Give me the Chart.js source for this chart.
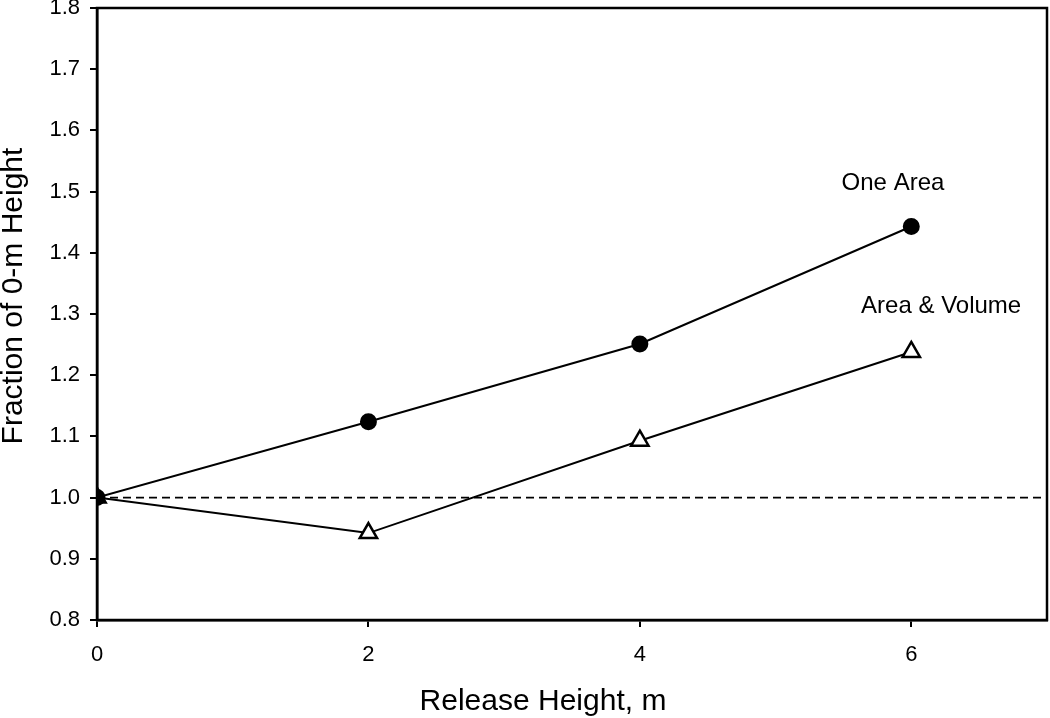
<!DOCTYPE html>
<html>
<head>
<meta charset="utf-8">
<script src="https://cdn.jsdelivr.net/npm/chart.js@4"></script>
<style>
  html, body { margin: 0; padding: 0; background: #fff; }
  #wrap { width: 1050px; height: 718px; }
</style>
</head>
<body>
<div id="wrap"><canvas id="myChart" width="1050" height="718"></canvas></div>
<script>
// data
const releaseHeights = [0, 2, 4, 6];
const oneArea = [1.0, 1.124, 1.251, 1.443];
const areaVolume = [1.0, 0.942, 1.093, 1.238];
const refLineX = [0, 7];
const refLineY = [1.0, 1.0];
const xTicks = [0, 2, 4, 6];
const seriesLabels = [
  { text: 'One Area', x: 5.865, y: 1.514 },
  { text: 'Area & Volume', x: 6.22, y: 1.313 },
];
const xTitle = 'Release Height, m';
const yTitle = 'Fraction of 0-m Height';

const font = 'Liberation Sans, Arial, sans-serif';

// box round the plot, axis titles and the text labels next to the series
const frameAndLabels = {
  id: 'frameAndLabels',
  afterDraw(chart) {
    const { ctx, chartArea: a, scales } = chart;
    ctx.save();
    ctx.strokeStyle = '#000';
    ctx.lineWidth = 2.5;
    ctx.strokeRect(a.left, a.top, a.right - a.left, a.bottom - a.top);
    ctx.fillStyle = '#000';
    ctx.font = '24px ' + font;
    ctx.textAlign = 'center';
    ctx.textBaseline = 'middle';
    seriesLabels.forEach(l => {
      ctx.fillText(l.text, scales.x.getPixelForValue(l.x), scales.y.getPixelForValue(l.y));
    });
    // axis titles
    ctx.font = '30px ' + font;
    ctx.textBaseline = 'alphabetic';
    ctx.fillText(xTitle, 543, 710);
    ctx.translate(21.5, 296);
    ctx.rotate(-Math.PI / 2);
    ctx.fillText(yTitle, 0, 0);
    ctx.restore();
  }
};

const ctx = document.getElementById('myChart').getContext('2d');
new Chart(ctx, {
  type: 'scatter',
  data: {
    datasets: [
      {
        label: 'ref',
        data: refLineX.map((x, i) => ({ x, y: refLineY[i] })),
        showLine: true,
        borderColor: '#000',
        borderWidth: 1.6,
        borderDash: [8, 5],
        pointRadius: 0,
      },
      {
        label: 'One Area',
        data: releaseHeights.map((x, i) => ({ x, y: oneArea[i] })),
        showLine: true,
        borderColor: '#000',
        borderWidth: 2,
        pointStyle: 'circle',
        pointRadius: 7.5,
        pointBackgroundColor: '#000',
        pointBorderColor: '#000',
      },
      {
        label: 'Area & Volume',
        data: releaseHeights.map((x, i) => ({ x, y: areaVolume[i] })),
        showLine: true,
        borderColor: '#000',
        borderWidth: 2,
        pointStyle: 'triangle',
        pointRadius: 10,
        pointBorderWidth: 2.5,
        pointBackgroundColor: '#fff',
        pointBorderColor: '#000',
      },
    ],
  },
  options: {
    responsive: false,
    animation: false,
    layout: { autoPadding: false, padding: { top: 8, right: 3, left: 0, bottom: 0 } },
    plugins: { legend: { display: false }, tooltip: { enabled: false } },
    scales: {
      x: {
        type: 'linear',
        min: 0,
        max: 7,
        afterBuildTicks: axis => { axis.ticks = xTicks.map(v => ({ value: v })); },
        afterFit: axis => { axis.height = 98; axis.paddingLeft = 0; axis.paddingRight = 0; },
        ticks: { color: '#000', font: { family: font, size: 22 }, padding: 15, maxRotation: 0 },
        grid: { drawOnChartArea: false, drawTicks: true, tickLength: 7, color: '#000', lineWidth: 2 },
        border: { color: '#000', width: 2.5 },
      },
      y: {
        min: 0.8,
        max: 1.8,
        afterFit: axis => { axis.width = 97; axis.paddingTop = 0; axis.paddingBottom = 0; },
        ticks: { stepSize: 0.1, color: '#000', font: { family: font, size: 22 }, padding: 10, callback: v => v.toFixed(1) },
        grid: { drawOnChartArea: false, drawTicks: true, tickLength: 7, color: '#000', lineWidth: 2 },
        border: { color: '#000', width: 2.5 },
      },
    },
  },
  plugins: [frameAndLabels],
});
</script>
</body>
</html>
